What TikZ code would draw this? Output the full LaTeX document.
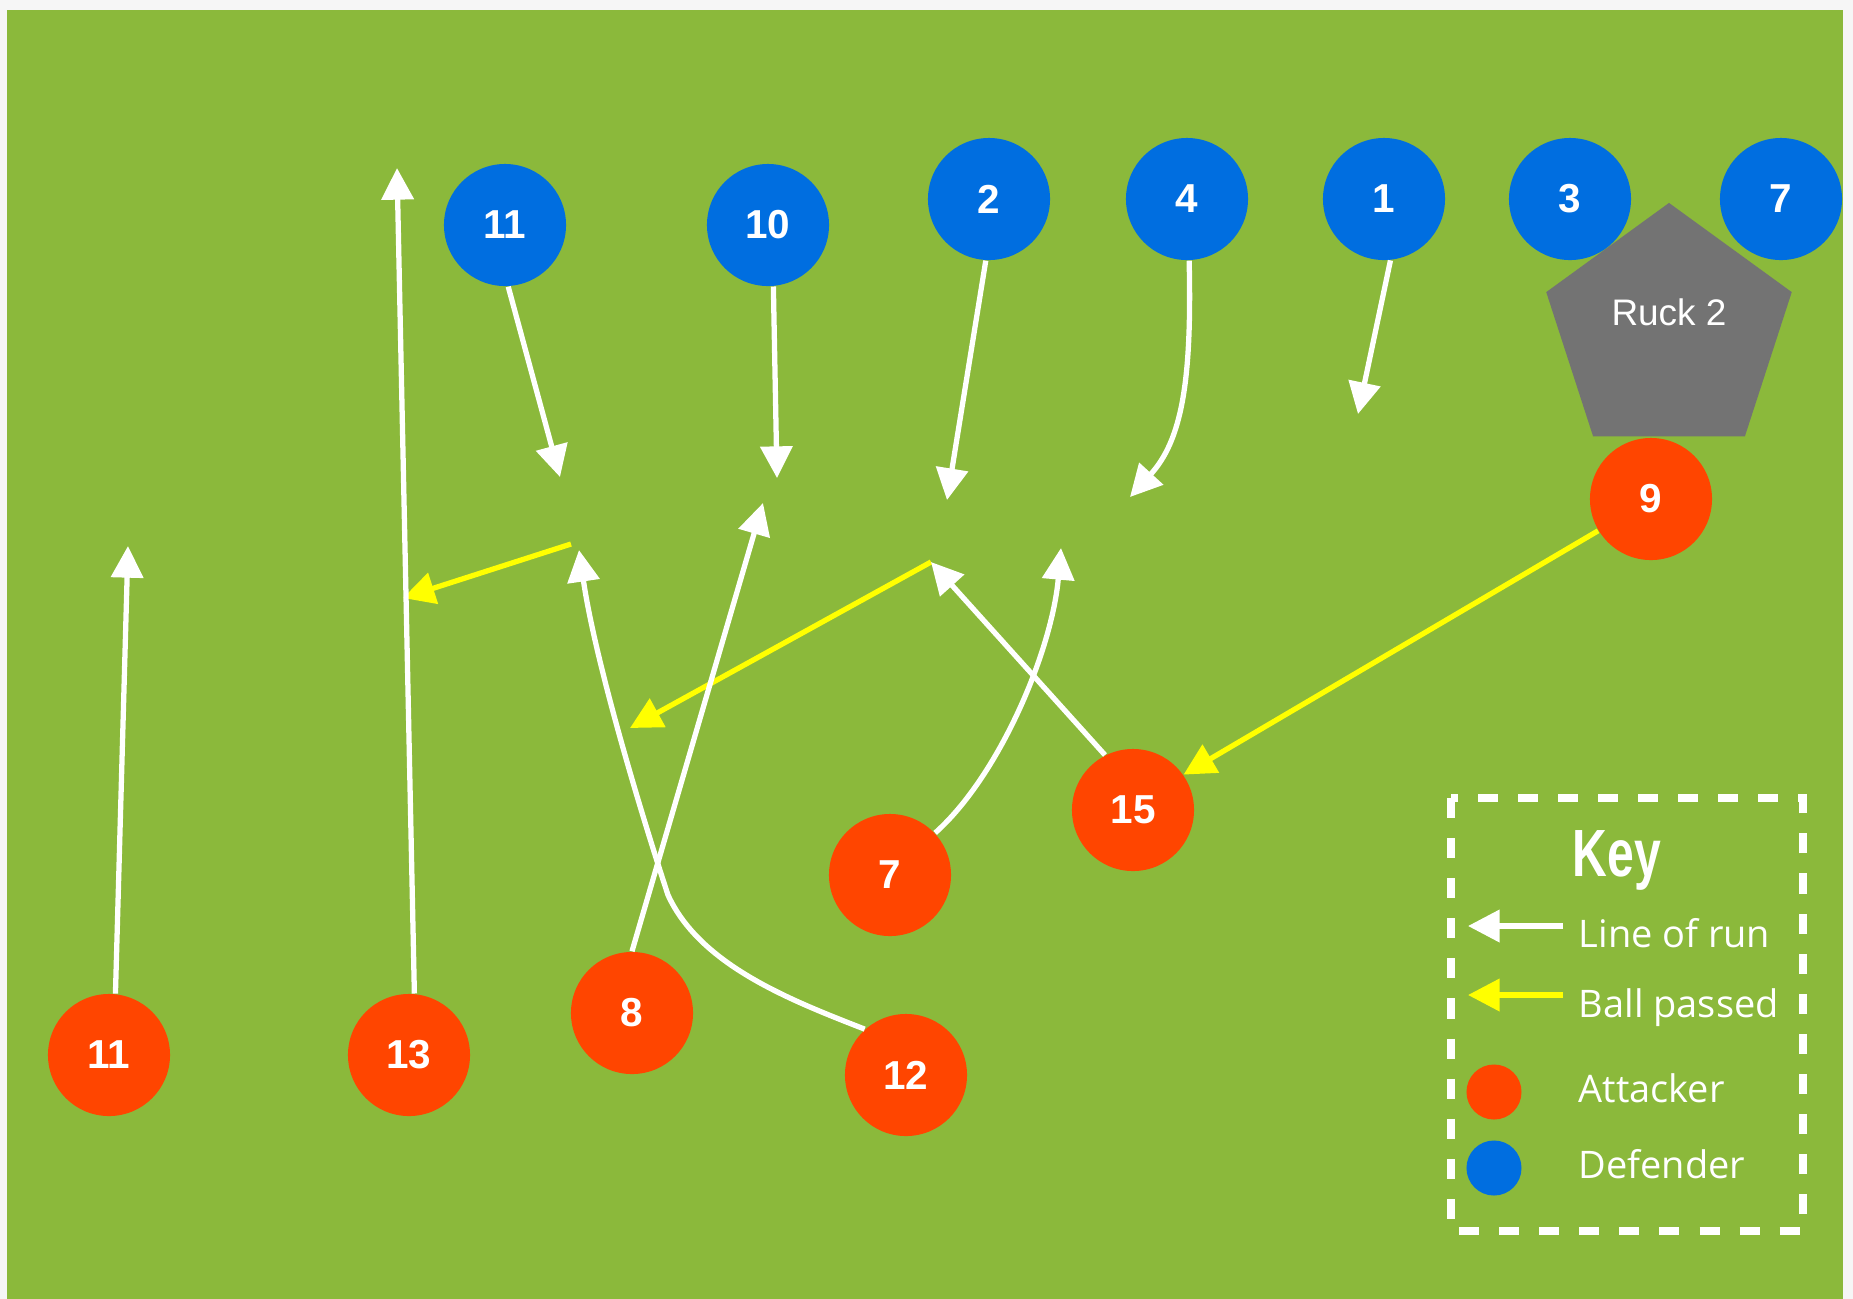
\documentclass[tikz,border=0pt]{standalone}
\usepackage{graphicx}
\usepackage{fontspec}
\setmainfont{Liberation Sans}
\newfontfamily\handfont{Open Sans}
\usetikzlibrary{arrows.meta, shapes.geometric}
\definecolor{fieldGreen}{HTML}{8BB93B}
\definecolor{attackRed}{HTML}{FF4500}
\definecolor{defendBlue}{HTML}{006EE0}
\definecolor{passYellow}{HTML}{FFFF00}
\definecolor{ruckGrey}{HTML}{737373}
\definecolor{pageGrey}{HTML}{F6F6F6}

\begin{document}
\begin{tikzpicture}[x=0.01cm, y=-0.01cm,
    player/.style={circle, minimum size=1.22cm, inner sep=0pt, text=white,
                   font=\fontsize{11.5}{13}\selectfont\bfseries},
    attacker/.style={player, fill=attackRed},
    defender/.style={player, fill=defendBlue},
    run/.style={white, line width=1.5pt, -{Triangle[width=9pt, length=9pt]}},
    pass/.style={run, passYellow},
    keytext/.style={anchor=base west, inner sep=0pt, text=white,
                    font=\handfont\fontsize{10.8}{12}\selectfont},
  ]
    % Field
    \useasboundingbox (0,0) rectangle (1853,1299);
    \fill[pageGrey] (0,0) rectangle (1853,1299);
    \fill[fieldGreen] (7,10) rectangle (1843,1299);

    % Ruck
    \node[regular polygon, regular polygon sides=5, minimum size=2.58cm,
          inner sep=0pt, fill=ruckGrey] (ruck) at (1669,332) {};
    \node[text=white, font=\fontsize{10.5}{12}\selectfont] (rucklabel)
      at ([yshift=0.2cm]ruck.center) {Ruck 2};

    % Defenders and attackers
    \foreach \n/\x/\y in {11/505/225, 10/768/225, 2/989/199, 4/1187/199,
                          1/1384/199, 3/1570/199, 7/1781/199}
      \node[defender] (d\n) at (\x,\y) {\n};
    \foreach \n/\x/\y in {11/109/1055, 13/409/1055, 8/632/1013, 12/906/1075,
                          7/890/875, 15/1133/810, 9/1651/499}
      \node[attacker] (a\n) at (\x,\y) {\n};

    % Ends of the runs
    \coordinate (ta11) at (128,546);
    \coordinate (ta13) at (397,168);
    \coordinate (ta12) at (579,550);
    \coordinate (ta8) at (763,503);
    \coordinate (ta7) at (1061,548);
    \coordinate (ta15) at (931,562);
    \coordinate (td11) at (560,477);
    \coordinate (td10) at (777,478);
    \coordinate (td2) at (947,500);
    \coordinate (td4) at (1130,497);
    \coordinate (td1) at (1358,414);
    % Ends of the passes
    \coordinate (pa12) at (571,544);
    \coordinate (tp15) at (630,728);
    \coordinate (tp12) at (403,598);

    % Ball passed
    \draw[pass] (a9.211) -- (a15.35);
    \draw[pass] (ta15) -- (tp15);
    \draw[pass] (pa12) -- (tp12);

    % Lines of run
    \draw[run] (a11.84) -- (ta11);
    \draw[run] (a13.85) -- (ta13);
    \draw[run] (a12.132) .. controls (790,1000) and (700,965) .. (668,895)
                         .. controls (640,810) and (595,660) .. (ta12);
    \draw[run] (a8.90) -- (ta8);
    \draw[run] (a7.43) .. controls (1000,775) and (1052,650) .. (ta7);
    \draw[run] (a15.117) -- (ta15);
    \draw[run] (d11.273) -- (td11);
    \draw[run] (d10.275) -- (td10);
    \draw[run] (d2.267) -- (td2);
    \draw[run] (d4.272) .. controls (1192,380) and (1182,440) .. (td4);
    \draw[run] (d1.276) -- (td1);

    % Key
    \draw[white, line width=2.2pt, dash pattern=on 5.7pt off 5.7pt]
      (1451,798) rectangle (1803,1231);
    \node[text=white, font=\fontsize{19}{20}\selectfont\bfseries] (keytitle)
      at (1617,860) {\scalebox{0.72}[1]{Key}};
    \coordinate (krunS) at (1563,926);
    \coordinate (krunE) at (1468,926);
    \coordinate (kpassS) at (1563,995);
    \coordinate (kpassE) at (1468,995);
    \draw[run] (krunS) -- (krunE);
    \draw[pass] (kpassS) -- (kpassE);
    \node[attacker, minimum size=0.55cm] (kattack) at (1494,1092) {};
    \node[defender, minimum size=0.55cm] (kdefend) at (1494,1168) {};
    \node[keytext] (krun) at (1578,947) {Line of run};
    \node[keytext] (kpass) at (1578,1017) {Ball passed};
    \node[keytext] (katt) at (1578,1102) {Attacker};
    \node[keytext] (kdef) at (1578,1178) {Defender};
  \end{tikzpicture}
\end{document}
